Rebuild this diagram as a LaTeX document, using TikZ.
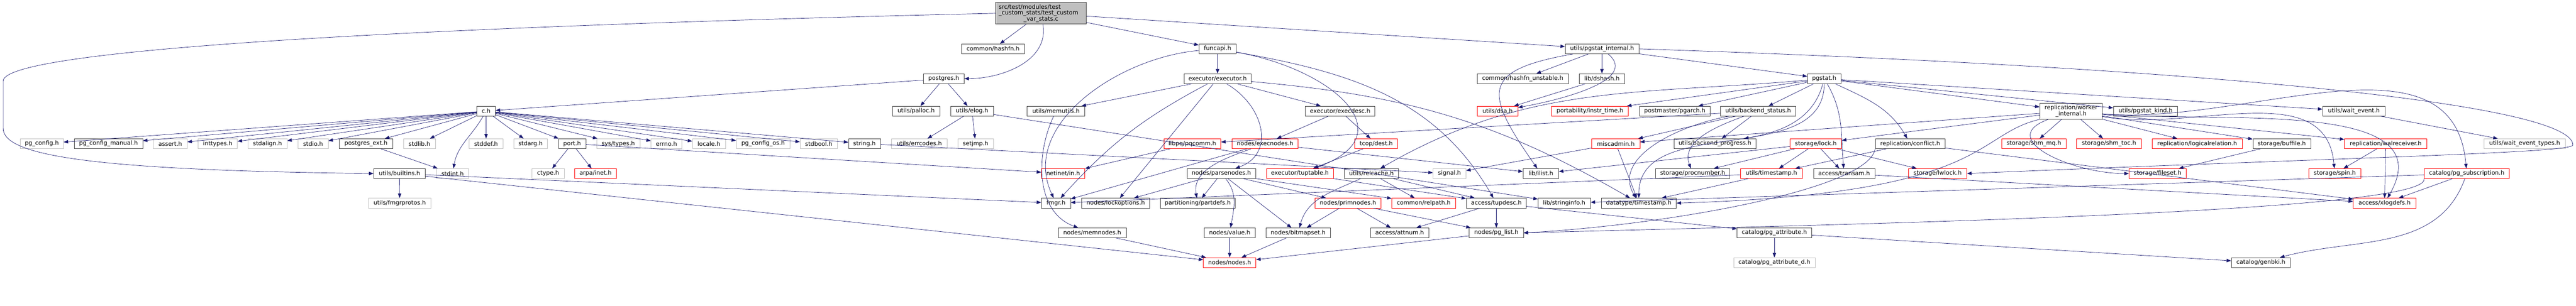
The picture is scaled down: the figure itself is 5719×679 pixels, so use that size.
\documentclass[tikz,border=0pt]{standalone}
\usepackage{fontspec}
\setmainfont{DejaVu Sans}
\usetikzlibrary{arrows.meta}
\definecolor{edgeblue}{RGB}{25,25,112}
\definecolor{boxgrey}{RGB}{64,64,64}
\definecolor{sysgrey}{RGB}{191,191,191}

\begin{document}
\begin{tikzpicture}[x=1pt,y=1pt,->,>={Triangle[length=10pt,width=7.5pt]},thick,edgeblue]
 \tikzstyle{hdr}=[draw=boxgrey,fill=white,text=black,inner sep=0pt,minimum height=22pt,font=\fontsize{13}{13}\selectfont]
 \tikzstyle{syshdr}=[hdr,draw=sysgrey]
 \tikzstyle{cuthdr}=[hdr,draw=red]
 \tikzstyle{srchdr}=[hdr,fill=sysgrey]
 \useasboundingbox (0,0) rectangle (5719,-679);
   % top file and first rows
   \node[srchdr,minimum width=201pt,minimum height=48pt,text width=187pt,align=left] (main) at (2311,-29.5) {src/test/modules/test\\\_custom\_stats/test\_custom\\\makebox[187pt]{\_var\_stats.c}};
   \node[hdr,minimum width=139pt] (hashfn) at (2204.7,-108.5) {common/hashfn.h};
   \node[hdr,minimum width=82.6pt] (funcapi) at (2703.1,-108.5) {funcapi.h};
   \node[hdr,minimum width=164pt] (pgsi) at (3556.7,-108.5) {utils/pgstat\_internal.h};
   \node[hdr,minimum width=90.7pt] (postgres) at (2095.3,-174.6) {postgres.h};
   \node[hdr,minimum width=149pt] (executor) at (2703.1,-174.6) {executor/executor.h};
   \node[hdr,minimum width=202.4pt] (hashfnu) at (3380.6,-174.6) {common/hashfn\_unstable.h};
   \node[hdr,minimum width=100.2pt] (dshash) at (3556.4,-174.6) {lib/dshash.h};
   \node[hdr,minimum width=74.6pt] (pgstat) at (4049.9,-174.6) {pgstat.h};
   \node[hdr,minimum width=41.3pt] (ch) at (1079.2,-246.7) {c.h};
   \node[hdr,minimum width=105.6pt] (palloc) at (2033.8,-246.7) {utils/palloc.h};
   \node[hdr,minimum width=95pt] (elog) at (2157.9,-246.7) {utils/elog.h};
   \node[hdr,minimum width=128pt] (memutils) at (2344.4,-246.7) {utils/memutils.h};
   \node[hdr,minimum width=154.5pt] (execdesc) at (2975.2,-246.7) {executor/execdesc.h};
   \node[cuthdr,minimum width=90pt] (dsa) at (3324.8,-246.7) {utils/dsa.h};
   \node[cuthdr,minimum width=171pt] (instrtime) at (3529.8,-246.7) {portability/instr\_time.h};
   \node[hdr,minimum width=156.5pt] (pgarch) at (3718.1,-246.7) {postmaster/pgarch.h};
   \node[hdr,minimum width=166.8pt] (bestatus) at (3903.1,-246.7) {utils/backend\_status.h};
   \node[hdr,minimum width=139pt,minimum height=36pt,align=center] (workerint) at (4597.9,-246.7) {replication/worker\\\_internal.h};
   \node[hdr,minimum width=142.8pt] (pgstatkind) at (4763.2,-246.7) {utils/pgstat\_kind.h};
   \node[hdr,minimum width=139pt] (waitevent) at (5225.9,-246.7) {utils/wait\_event.h};
   % row of c.h includes
   \node[syshdr,minimum width=96pt] (pgconfig) at (92.8,-319) {pg\_config.h};
   \node[hdr,minimum width=152.3pt] (pgcfgman) at (240.8,-319) {pg\_config\_manual.h};
   \node[syshdr,minimum width=75pt] (assert) at (378.1,-319) {assert.h};
   \node[syshdr,minimum width=87.3pt] (inttypes) at (483.4,-319) {inttypes.h};
   \node[syshdr,minimum width=87pt] (stdalign) at (593.8,-319) {stdalign.h};
   \node[syshdr,minimum width=67pt] (stdio) at (695.1,-319) {stdio.h};
   \node[hdr,minimum width=119pt] (pgext) at (812.5,-319) {postgres\_ext.h};
   \node[syshdr,minimum width=70.8pt] (stdlib) at (931.2,-319) {stdlib.h};
   \node[syshdr,minimum width=75pt] (stddef) at (1079.1,-319) {stddef.h};
   \node[syshdr,minimum width=75pt] (stdarg) at (1177.9,-319) {stdarg.h};
   \node[hdr,minimum width=60.5pt] (port) at (1270.1,-319) {port.h};
   \node[syshdr,minimum width=96.4pt] (systypes) at (1372.6,-319) {sys/types.h};
   \node[syshdr,minimum width=68.5pt] (errno) at (1479.6,-319) {errno.h};
   \node[syshdr,minimum width=73.4pt] (locale) at (1573.9,-319) {locale.h};
   \node[syshdr,minimum width=119.4pt] (pgcfgos) at (1694.1,-319) {pg\_config\_os.h};
   \node[syshdr,minimum width=83pt] (stdbool) at (1817.8,-319) {stdbool.h};
   \node[hdr,minimum width=70.8pt] (string) at (1919.2,-319) {string.h};
   \node[syshdr,minimum width=123.2pt] (errcodes) at (2040.7,-319) {utils/errcodes.h};
   \node[syshdr,minimum width=78.9pt] (setjmp) at (2165.9,-319) {setjmp.h};
   \node[cuthdr,minimum width=126.4pt] (pqcomm) at (2647.2,-319) {libpq/pqcomm.h};
   \node[cuthdr,minimum width=146.6pt] (execnodes) at (2808.5,-319) {nodes/execnodes.h};
   \node[cuthdr,minimum width=95.2pt] (dest) at (3055.3,-319) {tcop/dest.h};
   \node[cuthdr,minimum width=106.7pt] (miscadmin) at (3587.3,-319) {miscadmin.h};
   \node[hdr,minimum width=182.5pt] (beprogress) at (3807.3,-319) {utils/backend\_progress.h};
   \node[cuthdr,minimum width=114.8pt] (lock) at (4031.3,-319) {storage/lock.h};
   \node[hdr,minimum width=155pt] (conflict) at (4240.8,-319) {replication/conflict.h};
   \node[cuthdr,minimum width=143.1pt] (shmmq) at (4515.4,-319) {storage/shm\_mq.h};
   \node[cuthdr,minimum width=143.5pt] (shmtoc) at (4682.1,-319) {storage/shm\_toc.h};
   \node[cuthdr,minimum width=200.7pt] (logrel) at (4877.9,-319) {replication/logicalrelation.h};
   \node[hdr,minimum width=128.4pt] (buffile) at (5065.8,-319) {storage/buffile.h};
   \node[cuthdr,minimum width=183pt] (walrcv) at (5296.5,-319) {replication/walreceiver.h};
   \node[syshdr,minimum width=181.7pt] (wetypes) at (5604.9,-319) {utils/wait\_event\_types.h};
   % lower rows
   \node[hdr,minimum width=114.8pt] (builtins) at (887,-385.3) {utils/builtins.h};
   \node[syshdr,minimum width=70.7pt] (stdint) at (1004.7,-385.3) {stdint.h};
   \node[syshdr,minimum width=71.1pt] (ctype) at (1216.9,-385.3) {ctype.h};
   \node[cuthdr,minimum width=92.6pt] (arpainet) at (1322.1,-385.3) {arpa/inet.h};
   \node[cuthdr,minimum width=96.4pt] (netinet) at (2360.2,-385.3) {netinet/in.h};
   \node[hdr,minimum width=151.9pt] (parsenodes) at (2711.4,-385.3) {nodes/parsenodes.h};
   \node[cuthdr,minimum width=148.1pt] (tuptable) at (2885.9,-385.3) {executor/tuptable.h};
   \node[hdr,minimum width=120.8pt] (relcache) at (3044.8,-385.3) {utils/relcache.h};
   \node[syshdr,minimum width=73.1pt] (signal) at (3218,-385.3) {signal.h};
   \node[hdr,minimum width=79.2pt] (ilist) at (3420.8,-385.3) {lib/ilist.h};
   \node[hdr,minimum width=164.2pt] (procnumber) at (3757.9,-385.3) {storage/procnumber.h};
   \node[cuthdr,minimum width=137.8pt] (utimestamp) at (3932.6,-385.3) {utils/timestamp.h};
   \node[hdr,minimum width=136.2pt] (transam) at (4094.1,-385.3) {access/transam.h};
   \node[cuthdr,minimum width=129.8pt] (lwlock) at (4301.6,-385.3) {storage/lwlock.h};
   \node[cuthdr,minimum width=126.7pt] (fileset) at (4790,-385.3) {storage/fileset.h};
   \node[cuthdr,minimum width=114.9pt] (spin) at (5183.4,-385.3) {storage/spin.h};
   \node[cuthdr,minimum width=188.8pt] (pgsub) at (5476.4,-385.3) {catalog/pg\_subscription.h};
   \node[syshdr,minimum width=138.9pt] (fmgrprotos) at (887.3,-451) {utils/fmgrprotos.h};
   \node[hdr,minimum width=64.7pt] (fmgr) at (2344.4,-451) {fmgr.h};
   \node[hdr,minimum width=150.8pt] (lockopts) at (2476.9,-451) {nodes/lockoptions.h};
   \node[hdr,minimum width=166.8pt] (partdefs) at (2659.1,-451) {partitioning/partdefs.h};
   \node[cuthdr,minimum width=147.2pt] (primnodes) at (2992.6,-451) {nodes/primnodes.h};
   \node[cuthdr,minimum width=141.6pt] (relpath) at (3160.7,-451) {common/relpath.h};
   \node[hdr,minimum width=133.5pt] (tupdesc) at (3322,-451) {access/tupdesc.h};
   \node[hdr,minimum width=116.3pt] (stringinfo) at (3472.7,-451) {lib/stringinfo.h};
   \node[hdr,minimum width=166.8pt] (dtimestamp) at (3638.3,-451) {datatype/timestamp.h};
   \node[cuthdr,minimum width=138.9pt] (xlogdefs) at (5293.9,-451) {access/xlogdefs.h};
   \node[hdr,minimum width=151.1pt] (memnodes) at (2424.8,-517) {nodes/memnodes.h};
   \node[hdr,minimum width=113.7pt] (value) at (2730,-517) {nodes/value.h};
   \node[hdr,minimum width=143.1pt] (bitmapset) at (2881.9,-517) {nodes/bitmapset.h};
   \node[hdr,minimum width=129.7pt] (attnum) at (3107.4,-517) {access/attnum.h};
   \node[hdr,minimum width=120.5pt] (pglist) at (3322,-517) {nodes/pg\_list.h};
   \node[hdr,minimum width=165.7pt] (pgattr) at (3939.3,-517) {catalog/pg\_attribute.h};
   \node[cuthdr,minimum width=116.7pt] (nodes) at (2730,-583) {nodes/nodes.h};
   \node[syshdr,minimum width=180.3pt] (pgattrd) at (3939.3,-583) {catalog/pg\_attribute\_d.h};
   \node[hdr,minimum width=131.3pt] (genbki) at (5019.3,-583) {catalog/genbki.h};
   % the long ones, with their own control points
   \draw (main.west) .. controls (900,-60) and (7,-110) .. (7,-180) -- (7,-285) .. controls (7,-345) and (200,-378) .. (builtins.west);
   \draw (pgsi.east) .. controls (4900,-150) and (5712,-230) .. (5712,-322) .. controls (5712,-340) and (5200,-350) .. (lwlock.east);
   \draw (pgsub.south west) .. controls (5400,-475) and (4000,-500) .. (pglist.east);
   \draw (conflict.south west) .. controls (4150,-420) and (3700,-500) .. (pglist.east);
   \draw (workerint.south west) .. controls (4380,-300) and (4420,-430) .. (dtimestamp.east);
    \path
    (main) edge (hashfn)
      edge [out=-80,in=0] (postgres)
      edge (funcapi)
      edge (pgsi)
    (postgres) edge (ch)
      edge (palloc)
      edge (elog)
    (ch) edge (pgconfig) edge (pgcfgman) edge (assert) edge (inttypes)
      edge (stdalign) edge (stdio) edge (pgext) edge (stdlib)
      edge [out=-120,in=80] (stdint)
      edge (stddef) edge (stdarg) edge (port) edge (systypes)
      edge (errno) edge (locale) edge (pgcfgos) edge (stdbool) edge (string)
    (pgext) edge (stdint)
    (port) edge (ctype) edge (arpainet) edge (netinet)
    (string) edge (signal)
    (builtins) edge (fmgrprotos) edge (fmgr) edge (nodes)
    (elog) edge (errcodes) edge (setjmp) edge (stringinfo)
    (funcapi) edge (executor)
      edge [out=185,in=115] (fmgr)
      edge [out=-10,in=120] (tupdesc)
      edge [out=-10,in=20,looseness=1.8] (tuptable)
    (executor) edge (memutils)
      edge [bend right=10] (fmgr)
      edge (lockopts)
      edge [out=-30,in=20,looseness=1.3] (parsenodes)
      edge (execdesc)
      edge [out=-5,in=150] (dtimestamp)
    (memutils) edge [out=-115,in=160] (memnodes)
    (memnodes) edge (nodes)
    (execdesc) edge (execnodes) edge (dest)
    (execnodes) edge [out=-160,in=100] (partdefs)
      edge (fmgr)
      edge (ilist)
    (dest) edge (tuptable)
    (tuptable) edge (tupdesc)
    (pqcomm) edge (netinet)
    (parsenodes) edge (lockopts) edge (partdefs)
      edge [out=-50,in=80] (value)
      edge (bitmapset) edge (primnodes) edge (relpath)
    (primnodes) edge (bitmapset) edge (attnum) edge (pglist)
    (relcache) edge (relpath) edge (tupdesc)
      edge [out=-155,in=75] (bitmapset)
    (tupdesc) edge (attnum) edge (pglist) edge (pgattr)
    (pgattr) edge (pgattrd) edge (genbki)
    (value) edge (nodes)
    (bitmapset) edge (nodes)
    (pglist) edge (nodes)
    (pgsi) edge (hashfnu)
      edge (dshash)
      edge [out=190,in=125,looseness=2] (ilist)
      edge (pgstat)
      edge [out=-40,in=10] (dsa)
    (dshash) edge (dsa)
    (pgstat) edge (pgarch) edge (bestatus)
      edge [out=-105,in=10] (beprogress)
      edge [out=-90,in=90] (dtimestamp)
      edge [out=-60,in=95] (transam)
      edge [out=-25,in=120] (conflict)
      edge (instrtime)
      edge [out=185,in=30] (relcache)
      edge (pgstatkind) edge (waitevent) edge (workerint)
    (bestatus) edge (beprogress)
      edge [out=-160,in=110] (procnumber)
      edge (miscadmin) edge (pqcomm)
      edge [out=190,in=120] (dtimestamp)
    (miscadmin) edge (signal) edge (dtimestamp)
    (lock) edge (procnumber) edge (utimestamp) edge (transam) edge (ilist) edge (lwlock)
    (utimestamp) edge (dtimestamp) edge (fmgr)
    (transam) edge (xlogdefs)
    (conflict) edge (utimestamp)
      edge (xlogdefs)
    (workerint) edge (shmmq) edge (shmtoc) edge (logrel) edge (buffile) edge (walrcv)
      edge [out=-10,in=95] (spin)
      edge [out=-5,in=95] (pgsub)
      edge [out=-5,in=60] (xlogdefs)
      edge [out=200,in=180,looseness=1.5] (fileset)
      edge (lock) edge (miscadmin)
    (buffile) edge (fileset)
    (walrcv) edge (spin) edge (xlogdefs)
    (waitevent) edge (wetypes)
    (pgsub) edge (xlogdefs)
      edge [out=-110,in=15] (genbki)
      edge (stringinfo);
\end{tikzpicture}
\end{document}
